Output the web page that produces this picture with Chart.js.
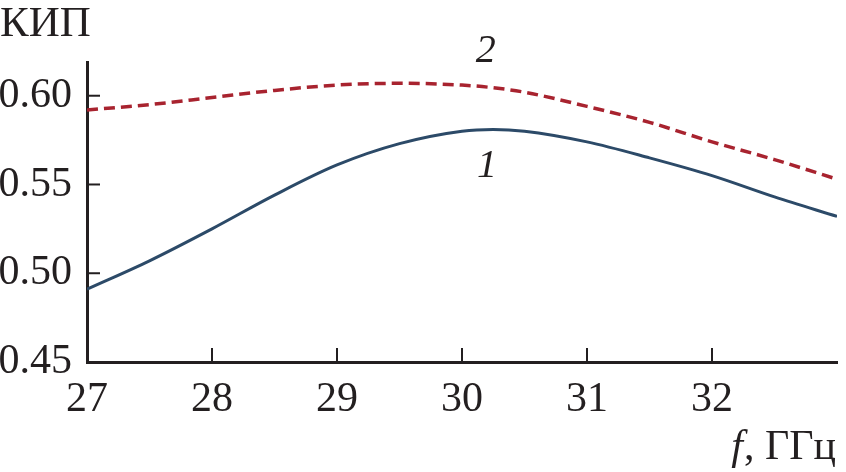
<!DOCTYPE html>
<html>
<head>
<meta charset="utf-8">
<script src="https://cdn.jsdelivr.net/npm/chart.js@4"></script>
<style>
  html, body { margin: 0; padding: 0; background: #fff; }
  #wrap { width: 846px; height: 472px; position: relative; }
</style>
</head>
<body>
<div id="wrap"><canvas id="chart"></canvas></div>
<script>
const freq = [27.0, 27.5, 28.0, 28.5, 29.0, 29.5, 30.0, 30.25, 30.5, 31.0, 31.5, 32.0, 32.5, 33.0]
const kip1 = [0.491, 0.507, 0.525, 0.544, 0.561, 0.573, 0.580, 0.581, 0.580, 0.574, 0.565, 0.555, 0.543, 0.532]
const kip2 = [0.592, 0.595, 0.599, 0.603, 0.606, 0.607, 0.606, 0.6045, 0.602, 0.594, 0.585, 0.574, 0.564, 0.553]
const xTicks = [27, 28, 29, 30, 31, 32]
const yTicks = [0.45, 0.50, 0.55, 0.60]

const serif = 'Liberation Serif, Times New Roman, Tinos, serif'
const ink = '#231f20'

// inward tick marks plus the free text (axis names, curve numbers)
const decor = {
  id: 'decor',
  afterDraw(chart) {
    const ctx = chart.ctx
    const xs = chart.scales.x
    const ys = chart.scales.y
    const area = chart.chartArea
    ctx.save()
    ctx.strokeStyle = ink
    ctx.lineWidth = 2
    xTicks.slice(1).forEach(v => {
      const px = xs.getPixelForValue(v)
      ctx.beginPath()
      ctx.moveTo(px, area.bottom)
      ctx.lineTo(px, area.bottom - 14)
      ctx.stroke()
    })
    yTicks.slice(1).forEach(v => {
      const py = ys.getPixelForValue(v)
      ctx.beginPath()
      ctx.moveTo(area.left, py)
      ctx.lineTo(area.left + 13, py)
      ctx.stroke()
    })

    ctx.fillStyle = ink
    ctx.textBaseline = 'alphabetic'
    ctx.font = '43px ' + serif
    ctx.textAlign = 'left'
    ctx.fillText('КИП', 0, 36)

    ctx.font = '42px ' + serif
    ctx.textAlign = 'right'
    ctx.fillText(', ГГц', 836, 459)
    const w = ctx.measureText(', ГГц').width
    ctx.font = 'italic 42px ' + serif
    ctx.fillText('f', 836 - w - 1, 459)

    ctx.font = 'italic 40px ' + serif
    ctx.textAlign = 'center'
    ctx.fillText('2', xs.getPixelForValue(30.19), ys.getPixelForValue(0.619))
    ctx.fillText('1', xs.getPixelForValue(30.2), ys.getPixelForValue(0.5542))
    ctx.restore()
  }
}

new Chart(document.querySelector('#chart').getContext('2d'), {
  type: 'line',
  data: {
    datasets: [{
      label: '1',
      data: freq.map((f, i) => ({ x: f, y: kip1[i] })),
      borderColor: '#2c4a68',
      borderWidth: 3,
      pointRadius: 0,
      tension: 0.4,
      cubicInterpolationMode: 'monotone'
    }, {
      label: '2',
      data: freq.map((f, i) => ({ x: f, y: kip2[i] })),
      borderColor: '#a8232f',
      borderWidth: 3.5,
      borderDash: [11, 6],
      pointRadius: 0,
      tension: 0.4,
      cubicInterpolationMode: 'monotone'
    }]
  },
  options: {
    responsive: true,
    maintainAspectRatio: false,
    animation: false,
    layout: { padding: { top: 62, right: 9, left: 0, bottom: 0 } },
    plugins: { legend: { display: false }, tooltip: { enabled: false } },
    scales: {
      x: {
        type: 'linear',
        min: 27,
        max: 33,
        afterBuildTicks: s => { s.ticks = xTicks.map(v => ({ value: v })) },
        afterFit: s => { s.height = 110 },
        grid: { display: false, drawTicks: false },
        border: { display: true, color: ink, width: 3 },
        ticks: {
          color: ink,
          font: { family: serif, size: 42 },
          padding: 13,
          maxRotation: 0,
          autoSkip: false
        }
      },
      y: {
        min: 0.45,
        max: 0.619,
        afterBuildTicks: s => { s.ticks = yTicks.map(v => ({ value: v })) },
        afterFit: s => { s.width = 87 },
        grid: { display: false, drawTicks: false },
        border: { display: true, color: ink, width: 3 },
        ticks: {
          color: ink,
          font: { family: serif, size: 42 },
          padding: 15,
          callback: v => v.toFixed(2)
        }
      }
    }
  },
  plugins: [decor]
})
</script>
</body>
</html>
